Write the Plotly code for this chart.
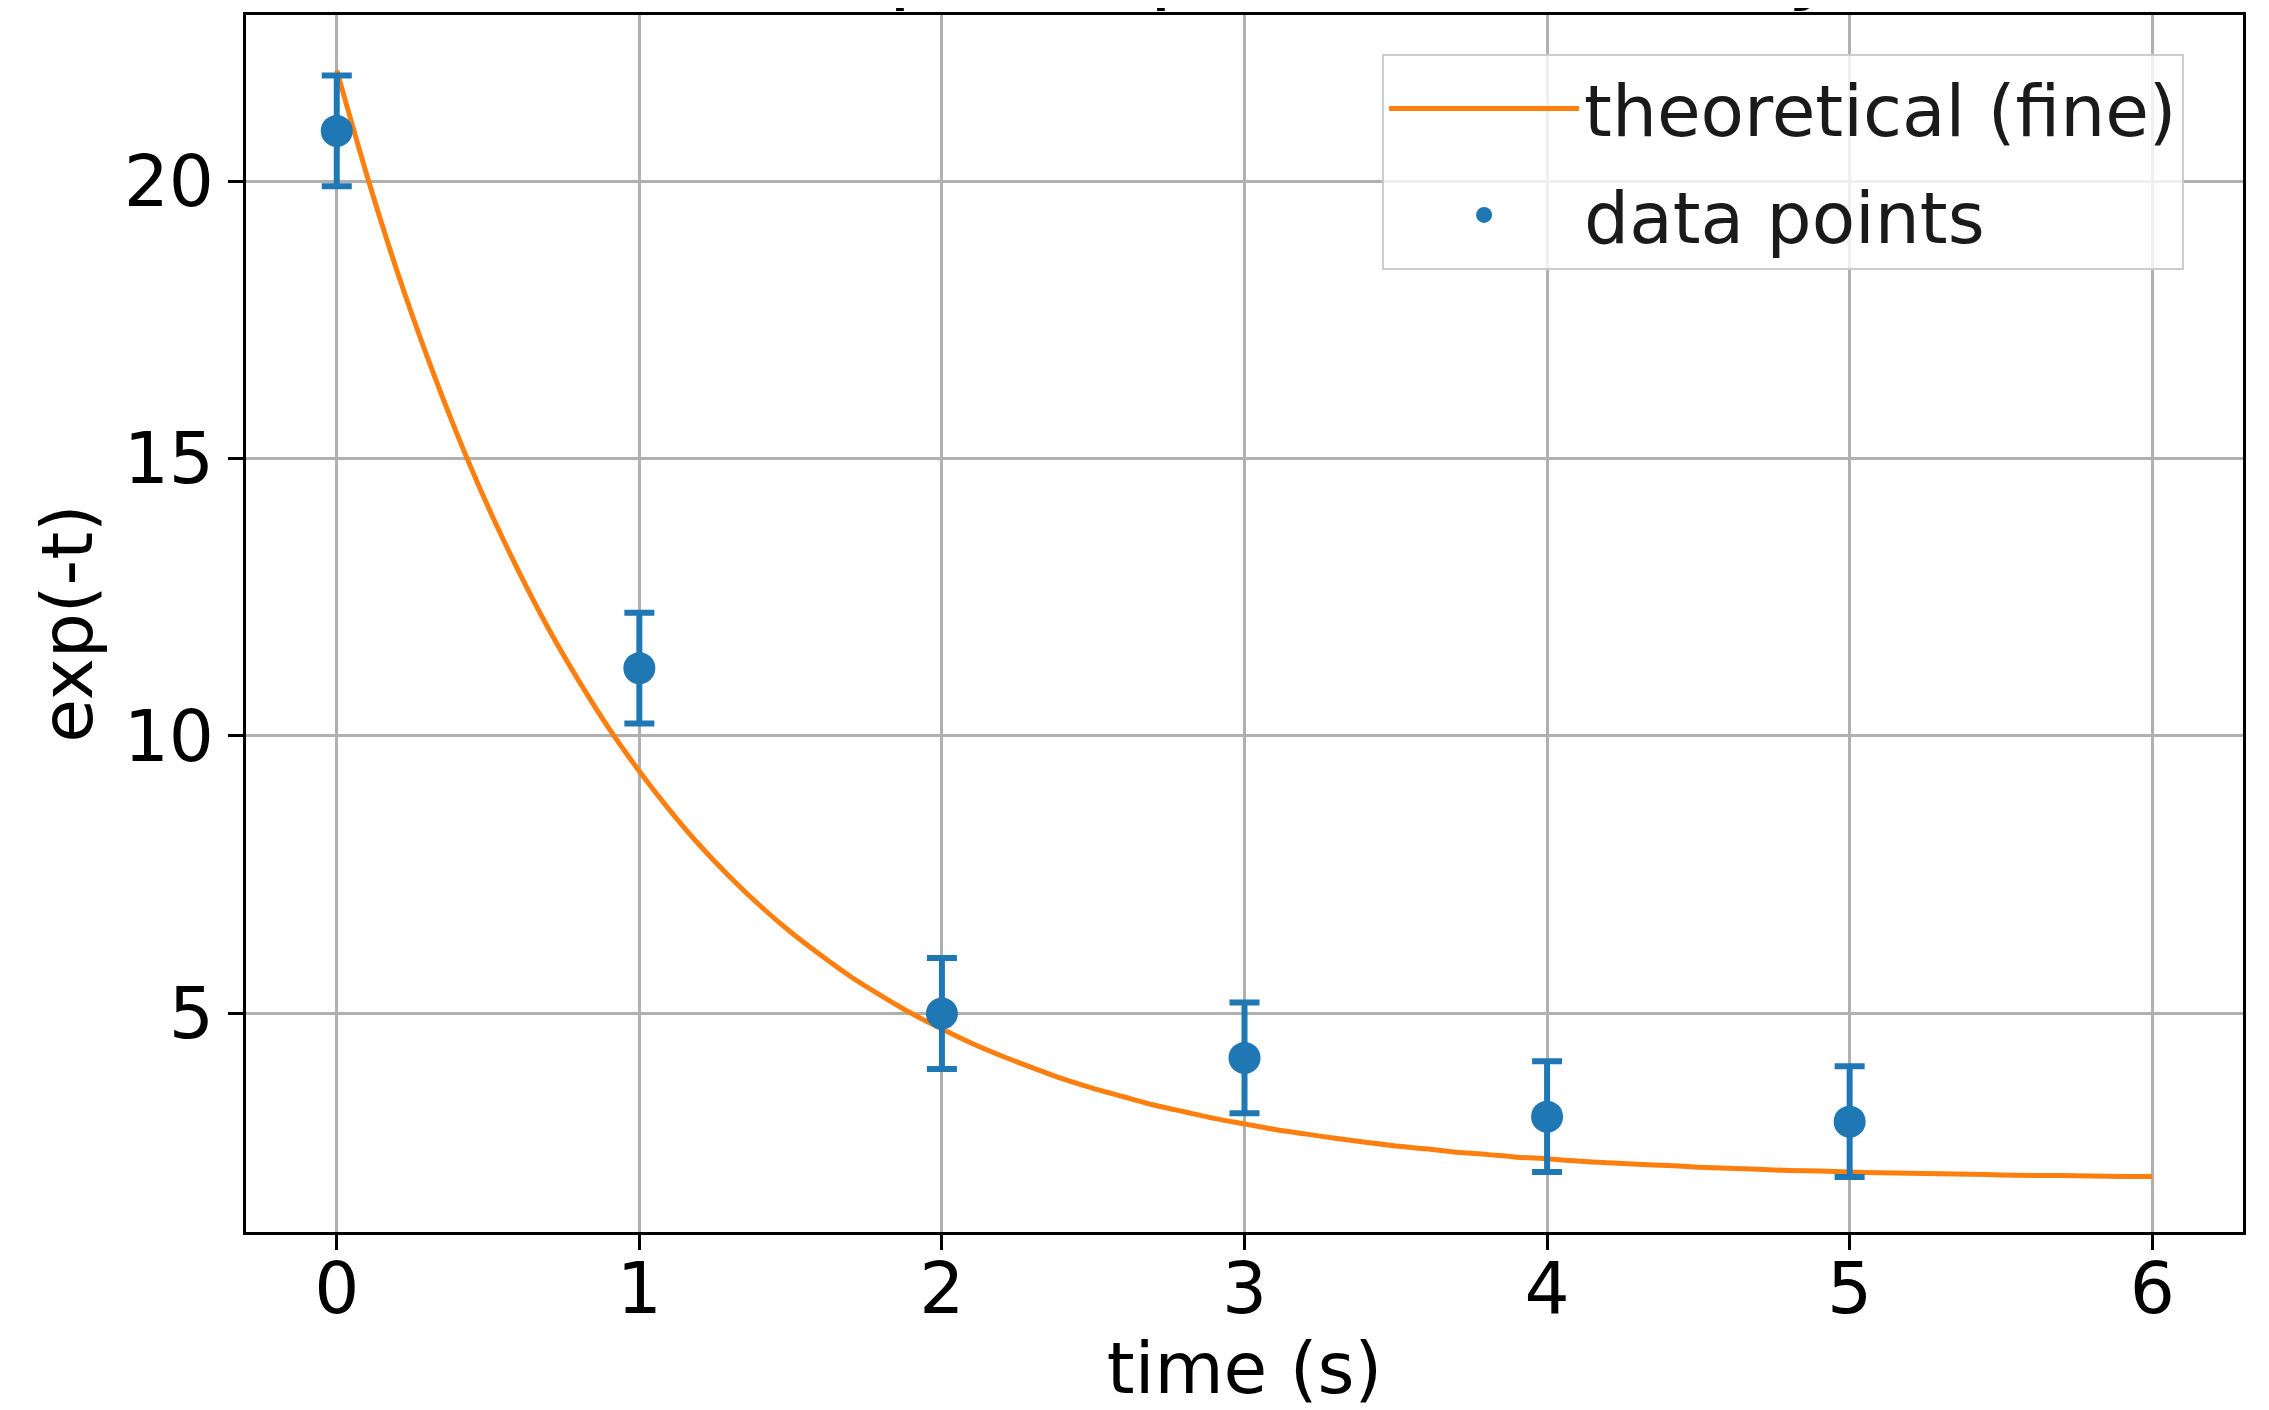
import plotly.graph_objects as go

# Data
t_fine = [round(0.1 * i, 1) for i in range(61)]
y_fine = [22.00, 20.10, 18.37, 16.82, 15.41, 14.13, 12.98, 11.93, 10.99, 10.13,
          9.36, 8.66, 8.02, 7.45, 6.93, 6.46, 6.04, 5.65, 5.31, 4.99,
          4.71, 4.45, 4.22, 4.01, 3.81, 3.64, 3.49, 3.34, 3.22, 3.10,
          3.00, 2.90, 2.82, 2.74, 2.67, 2.60, 2.55, 2.49, 2.45, 2.40,
          2.37, 2.33, 2.30, 2.27, 2.25, 2.22, 2.20, 2.18, 2.16, 2.15,
          2.13, 2.12, 2.11, 2.10, 2.09, 2.08, 2.07, 2.07, 2.06, 2.05,
          2.05]
t_data = [0, 1, 2, 3, 4, 5]
y_data = [20.91, 11.22, 4.99, 4.19, 3.13, 3.04]
y_err = [1.0, 1.0, 1.0, 1.0, 1.0, 1.0]
x_ticks = [0, 1, 2, 3, 4, 5, 6]
y_ticks = [5, 10, 15, 20]

BLUE = "#1f77b4"
ORANGE = "#ff7f0e"
FONT = "DejaVu Sans"

fig = go.Figure()
fig.add_trace(go.Scatter(
    x=t_fine, y=y_fine, mode="lines", name="theoretical (fine)",
    line=dict(color=ORANGE, width=5, shape="spline", smoothing=0.6),
    legendgroup="a",
))
fig.add_trace(go.Scatter(
    x=t_data, y=y_data, mode="markers", name="data points",
    marker=dict(color=BLUE, size=32),
    error_y=dict(type="data", array=y_err, visible=True, color=BLUE,
                 thickness=6, width=15),
    legendgroup="b",
))

fig.add_annotation(
    text="Simple exponential decay", xref="paper", yref="paper",
    x=0.519, y=1.001, xanchor="center", yanchor="bottom",
    showarrow=False, borderpad=0,
    font=dict(family=FONT, size=86, color="black"),
)

axis_common = dict(
    showgrid=True, gridcolor="#b0b0b0", gridwidth=2.5,
    showline=True, linecolor="black", linewidth=2.5, mirror=True,
    ticks="outside", ticklen=15, tickwidth=2.5, tickcolor="black",
    tickfont=dict(family=FONT, size=71, color="black"),
    zeroline=False, automargin=False,
)

fig.update_xaxes(
    range=[-0.3, 6.3], tickvals=x_ticks, ticktext=[str(v) for v in x_ticks],
    ticklabelstandoff=-22,
    title=dict(text="time (s)", font=dict(family=FONT, size=71, color="black"),
               standoff=0),
    **axis_common,
)
fig.update_yaxes(
    range=[1.05, 23.0], tickvals=y_ticks, ticktext=[str(v) for v in y_ticks],
    title=dict(text="exp(-t)", font=dict(family=FONT, size=71, color="black"),
               standoff=8),
    **axis_common,
)

fig.update_layout(
    width=2261, height=1402, autosize=False,
    margin=dict(l=238, r=26, t=7, b=178, pad=0, autoexpand=False),
    paper_bgcolor="white", plot_bgcolor="white",
    font=dict(family=FONT, color="black"),
    showlegend=True,
    legend=dict(
        x=0.9705, y=0.968, xanchor="right", yanchor="top",
        bgcolor="rgba(255,255,255,0.8)", bordercolor="#cccccc", borderwidth=2,
        font=dict(family=FONT, size=71, color="#1a1a1a"),
        itemwidth=190, tracegroupgap=11, traceorder="grouped",
    ),
)

fig.write_html("out.html")
